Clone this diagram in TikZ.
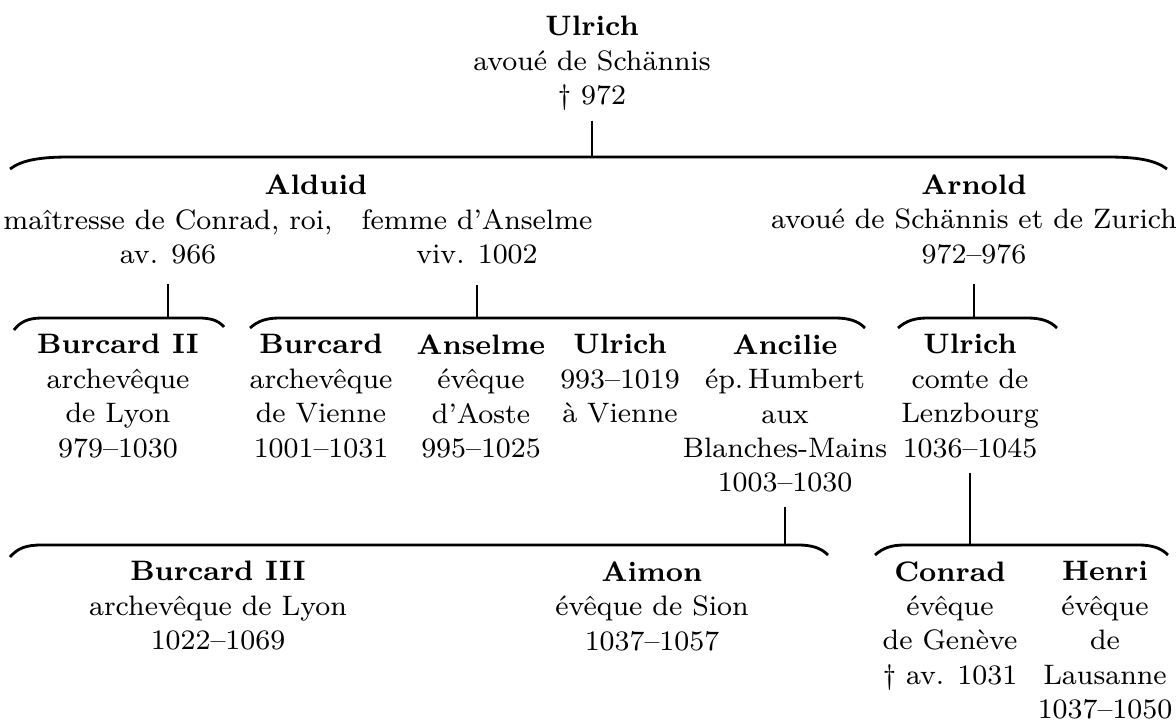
\documentclass[tikz,border=0pt]{standalone}
\tikzset{
	person/.style={align=center, anchor=north, yshift=5.5pt, inner sep=0pt, font=\fontsize{8}{9.8}\selectfont},
	siblings/.style={line width=0.8pt},
	stem/.style={line width=0.8pt, shorten <=4pt}
}
\begin{document}
\begin{tikzpicture}[x=0.01cm,y=-0.01cm]
		\useasboundingbox (0,0) rectangle (1176,722);

		\node[person] (ulrichA) at (592,35) {\textbf{Ulrich}\\avoué de Schännis\\\textdagger\ 972};

		\node[person] (alduid) at (316,193) {\textbf{Alduid}};
		\node[person] (alduidM) at (168,228) {maîtresse de Conrad, roi,\\av. 966};
		\node[person] (alduidF) at (477,228) {femme d’Anselme\\viv. 1002};
		\node[person] (arnold) at (974,193) {\textbf{Arnold}\\avoué de Schännis et de Zurich\\972\textendash976};

		\node[person] (burcardII) at (118,353) {\textbf{Burcard II}\\archevêque\\de Lyon\\979\textendash1030};
		\node[person] (burcard) at (321,353) {\textbf{Burcard}\\archevêque\\de Vienne\\1001\textendash1031};
		\node[person] (anselme) at (481,353) {\textbf{Anselme}\\évêque\\d’Aoste\\995\textendash1025};
		\node[person] (ulrichB) at (620,353) {\textbf{Ulrich}\\993\textendash1019\\à Vienne};
		\node[person] (ancilie) at (785,353) {\textbf{Ancilie}\\ép.\,Humbert\\aux\\Blanches-Mains\\1003\textendash1030};
		\node[person] (ulrichL) at (970,353) {\textbf{Ulrich}\\comte de\\Lenzbourg\\1036\textendash1045};

		\node[person] (burcardIII) at (218,580) {\textbf{Burcard III}\\archevêque de Lyon\\1022\textendash1069};
		\node[person] (aimon) at (652,580) {\textbf{Aimon}\\évêque de Sion\\1037\textendash1057};
		\node[person] (conrad) at (950,580) {\textbf{Conrad}\\évêque\\de Genève\\\textdagger\ av. 1031};
		\node[person] (henri) at (1105,580) {\textbf{Henri}\\évêque\\de\\Lausanne\\1037\textendash1050};

		\coordinate (lineA) at (0,157);
		\coordinate (lineB) at (0,318);
		\coordinate (lineC) at (0,545);

		\draw[siblings] (10,169) .. controls (22,160) and (40,157) .. (70,157) -- (1107,157) .. controls (1137,157) and (1155,160) .. (1167,169);
		\draw[siblings] (14,330) .. controls (20,322) and (28,318) .. (42,318) -- (198,318) .. controls (210,318) and (218,320) .. (224,327);
		\draw[siblings] (250,328) .. controls (258,321) and (266,318) .. (280,318) -- (835,318) .. controls (849,318) and (858,321) .. (865,328);
		\draw[siblings] (898,328) .. controls (906,321) and (914,318) .. (928,318) -- (1027,318) .. controls (1041,318) and (1050,321) .. (1057,328);
		\draw[siblings] (10,557) .. controls (18,548) and (26,545) .. (42,545) -- (798,545) .. controls (812,545) and (821,548) .. (828,555);
		\draw[siblings] (875,555) .. controls (883,548) and (891,545) .. (905,545) -- (1138,545) .. controls (1152,545) and (1161,548) .. (1168,555);

		\draw[stem, shorten <=2.6pt] (ulrichA.south) -- (ulrichA.south |- lineA);
		\draw[stem, shorten <=5.5pt] (alduidM.south) -- (alduidM.south |- lineB);
		\draw[stem, shorten <=5.5pt] (alduidF.south) -- (alduidF.south |- lineB);
		\draw[stem, shorten <=5.5pt] (arnold.south) -- (arnold.south |- lineB);
		\draw[stem] (ancilie.south) -- (ancilie.south |- lineC);
		\draw[stem] (ulrichL.south) -- (ulrichL.south |- lineC);

	\end{tikzpicture}
\end{document}
